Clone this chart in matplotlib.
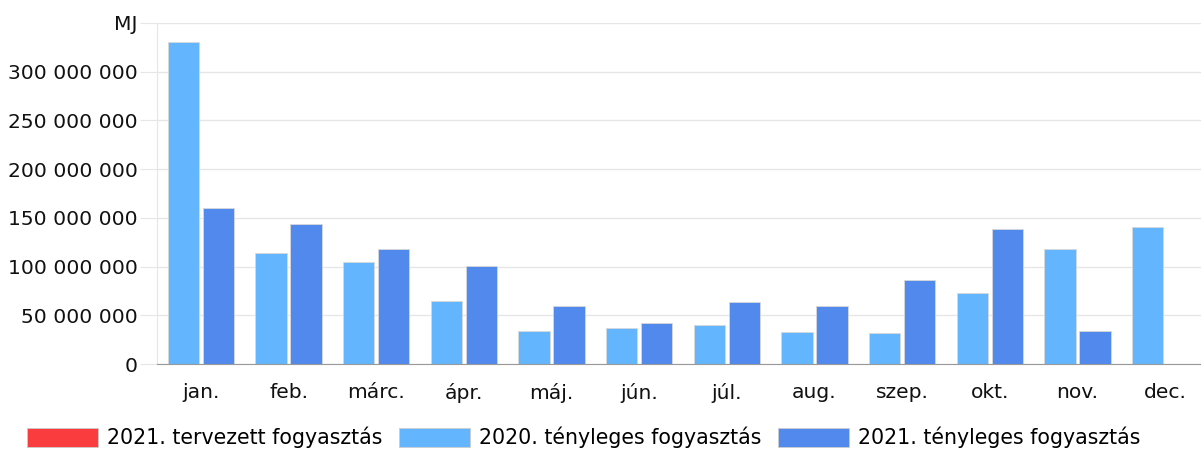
import matplotlib
matplotlib.use("Agg")
import matplotlib.pyplot as plt
import numpy as np
from matplotlib.patches import Patch

months = ["jan.", "feb.", "márc.", "ápr.", "máj.", "jún.", "júl.", "aug.", "szep.", "okt.", "nov.", "dec."]
# MJ values
actual_2020 = [330.7e6, 113.7e6, 104.4e6, 64.5e6, 33.8e6, 36.9e6, 40.0e6, 32.8e6, 31.7e6, 72.7e6, 117.7e6, 140.3e6]
actual_2021 = [159.7e6, 143.3e6, 117.7e6, 100.3e6, 59.4e6, 42.0e6, 63.5e6, 59.4e6, 86.0e6, 138.2e6, 33.8e6, np.nan]
planned_2021 = [np.nan] * 12  # no planned values shown

series_names = ["2021. tervezett fogyasztás", "2020. tényleges fogyasztás", "2021. tényleges fogyasztás"]
colors = ["#fa3c3f", "#63b6fe", "#5289ec"]

plt.rcParams["font.family"] = "DejaVu Sans"
plt.rcParams["font.size"] = 14.6

fig = plt.figure(figsize=(12.01, 4.5), dpi=100)
ax = fig.add_axes([157 / 1201, 1 - 364 / 450, 1052 / 1201, 341 / 450])

x = np.arange(len(months))
w = 0.355
ax.bar(x - 0.2, actual_2020, width=w, color=colors[1], edgecolor="#d8d8d8", linewidth=0.6, zorder=3)
ax.bar(x + 0.2, actual_2021, width=w, color=colors[2], edgecolor="#d8d8d8", linewidth=0.6, zorder=3)

ax.set_xlim(-0.5, 11.5)
ax.set_ylim(0, 350e6)
yt = np.arange(0, 350e6 + 1, 50e6)
ax.set_yticks(yt)
labels = ["{:,}".format(int(v)).replace(",", " ") for v in yt]
labels[-1] = "MJ"
ax.set_yticklabels(labels)
ax.tick_params(axis="y", length=12, color="#e6e6e6", pad=2, labelcolor="#111111")
ax.set_xticks(x)
ax.set_xticklabels(months)
ax.tick_params(axis="x", length=0, pad=14, labelcolor="#111111")
ax.grid(axis="y", color="#e6e6e6", linewidth=1, zorder=0)

for s in ["top", "right"]:
    ax.spines[s].set_visible(False)
ax.spines["left"].set_color("#e6e6e6")
ax.spines["bottom"].set_color("#999999")
ax.spines["bottom"].set_zorder(4)

handles = [Patch(facecolor=c, edgecolor="#cccccc", linewidth=0.6) for c in colors]
fig.legend(handles, series_names, loc="upper left", bbox_to_anchor=(27 / 1201, 1 - 427 / 450),
           ncol=3, frameon=False, handlelength=3.45, handleheight=1.1, handletextpad=0.45,
           columnspacing=0.8, borderpad=0, borderaxespad=0, fontsize=14.8)

fig.savefig("out.png", dpi=100)
